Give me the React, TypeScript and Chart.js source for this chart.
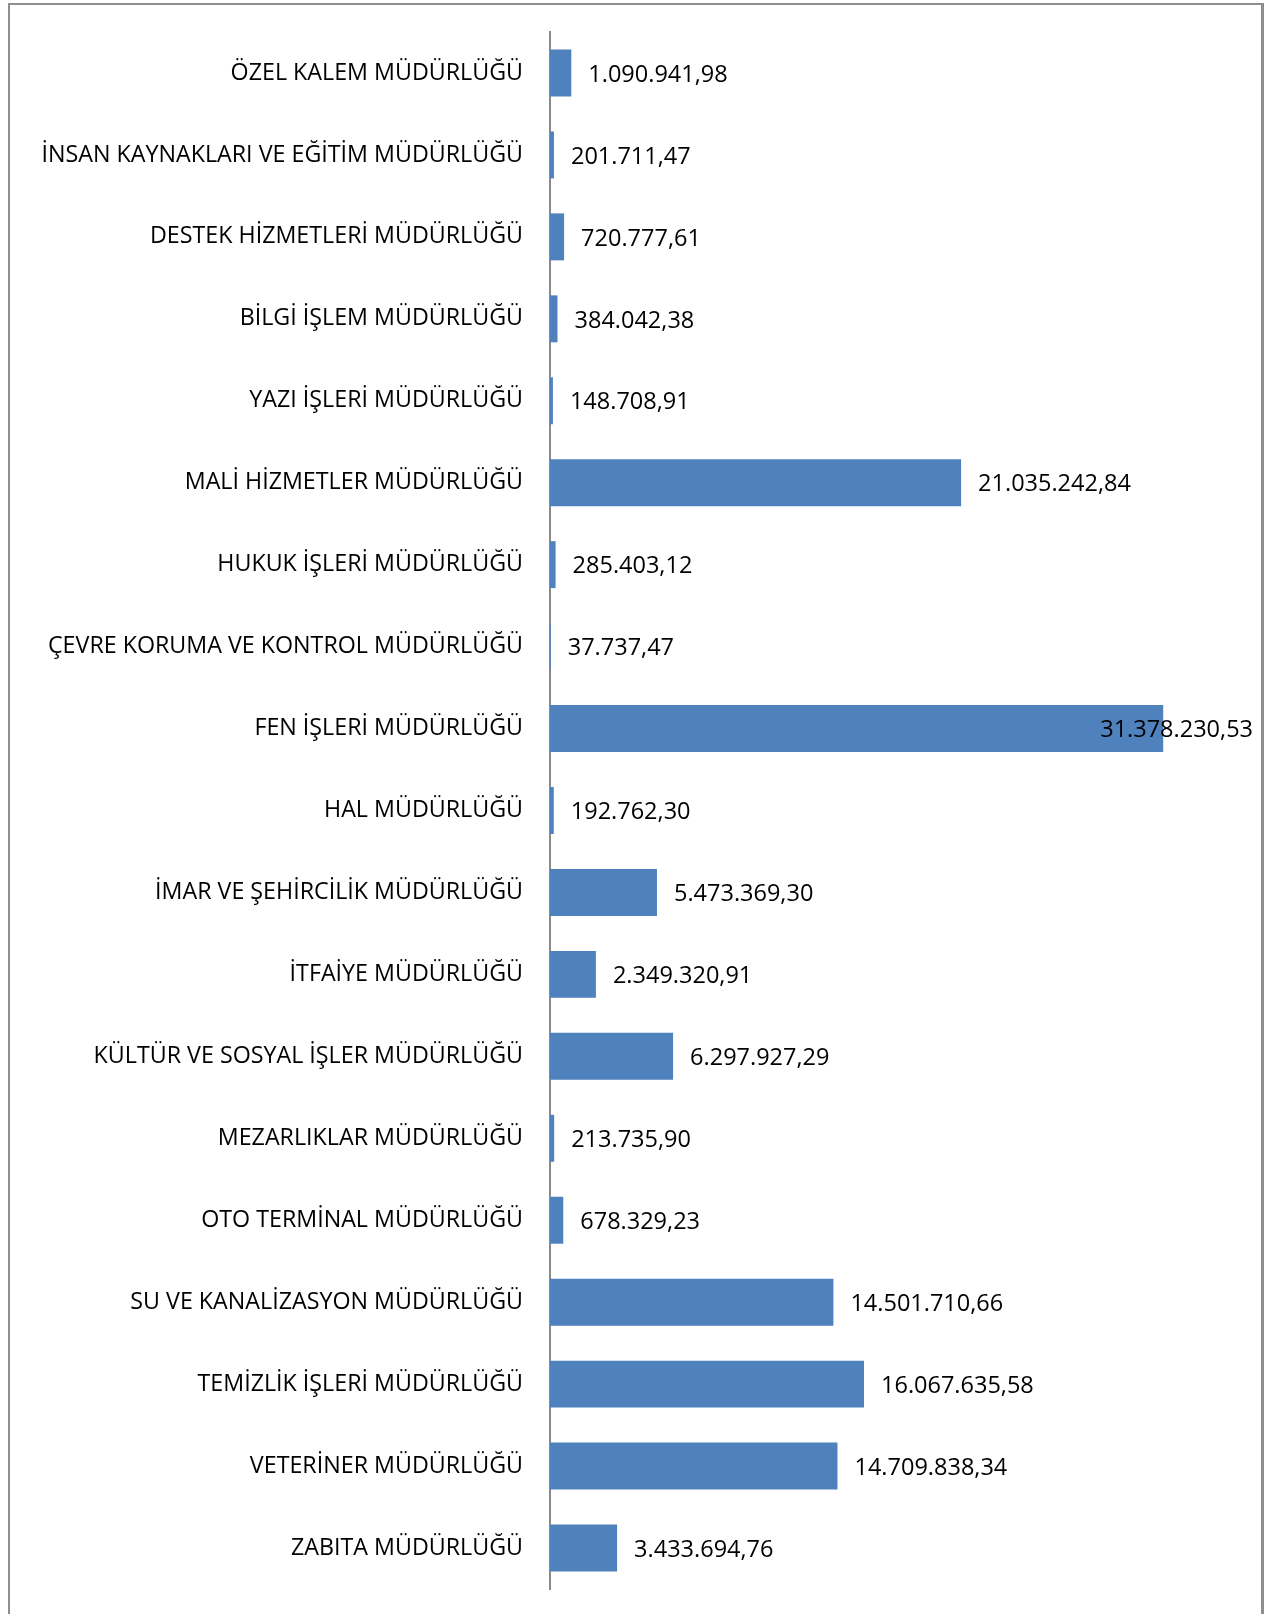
import React, { useEffect, useRef } from "react";
import { Chart, registerables } from "chart.js";

Chart.register(...registerables);

const categories: string[] = [
  "ÖZEL KALEM MÜDÜRLÜĞÜ",
  "İNSAN KAYNAKLARI VE EĞİTİM MÜDÜRLÜĞÜ",
  "DESTEK HİZMETLERİ MÜDÜRLÜĞÜ",
  "BİLGİ İŞLEM MÜDÜRLÜĞÜ",
  "YAZI İŞLERİ MÜDÜRLÜĞÜ",
  "MALİ HİZMETLER MÜDÜRLÜĞÜ",
  "HUKUK İŞLERİ MÜDÜRLÜĞÜ",
  "ÇEVRE KORUMA VE KONTROL MÜDÜRLÜĞÜ",
  "FEN İŞLERİ MÜDÜRLÜĞÜ",
  "HAL MÜDÜRLÜĞÜ",
  "İMAR VE ŞEHİRCİLİK MÜDÜRLÜĞÜ",
  "İTFAİYE MÜDÜRLÜĞÜ",
  "KÜLTÜR VE SOSYAL İŞLER MÜDÜRLÜĞÜ",
  "MEZARLIKLAR MÜDÜRLÜĞÜ",
  "OTO TERMİNAL MÜDÜRLÜĞÜ",
  "SU VE KANALİZASYON MÜDÜRLÜĞÜ",
  "TEMİZLİK İŞLERİ MÜDÜRLÜĞÜ",
  "VETERİNER MÜDÜRLÜĞÜ",
  "ZABITA MÜDÜRLÜĞÜ",
];

const values: number[] = [
  1090941.98,
  201711.47,
  720777.61,
  384042.38,
  148708.91,
  21035242.84,
  285403.12,
  37737.47,
  31378230.53,
  192762.3,
  5473369.3,
  2349320.91,
  6297927.29,
  213735.9,
  678329.23,
  14501710.66,
  16067635.58,
  14709838.34,
  3433694.76,
];

const axisMax = 35000000;

function formatTR(v: number): string {
  const fixed = v.toFixed(2);
  const [intPart, dec] = fixed.split(".");
  const withDots = intPart.replace(/\B(?=(\d{3})+(?!\d))/g, ".");
  return withDots + "," + dec;
}

const FONT_FAMILY = "'Open Sans', sans-serif";
const VALUE_FONT_SIZE = 23.5;
const LABEL_FONT_SIZE = 23.25;
const W = 1277;
const H = 1614;

const valueLabelPlugin = {
  id: "valueLabels",
  afterDatasetsDraw(chart: any) {
    const ctx = chart.ctx;
    const meta = chart.getDatasetMeta(0);
    ctx.save();
    ctx.font = `${VALUE_FONT_SIZE}px ${FONT_FAMILY}`;
    ctx.fillStyle = "#000000";
    ctx.textBaseline = "middle";
    ctx.textAlign = "left";
    const maxRight = 1253;
    meta.data.forEach((bar: any, i: number) => {
      const text = formatTR(values[i]);
      const w = ctx.measureText(text).width;
      let x = bar.x + 17;
      if (x + w > maxRight) x = maxRight - w;
      ctx.fillText(text, x, bar.y + 2);
    });
    ctx.restore();
  },
};

export default function App() {
  const canvasRef = useRef<HTMLCanvasElement | null>(null);

  useEffect(() => {
    if (!canvasRef.current) return;
    const chart = new Chart(canvasRef.current, {
      type: "bar",
      data: {
        labels: categories,
        datasets: [
          {
            data: values,
            backgroundColor: "#4F81BD",
            borderWidth: 0,
            categoryPercentage: 1,
            barPercentage: 0.573,
          },
        ],
      },
      options: {
        indexAxis: "y",
        animation: false,
        responsive: false,
        maintainAspectRatio: false,
        layout: {
          padding: { top: 32, bottom: H - 1589, left: 0, right: W - 1234 },
        },
        plugins: {
          legend: { display: false },
          tooltip: { enabled: false },
          title: { display: false },
        },
        scales: {
          x: {
            display: false,
            min: 0,
            max: axisMax,
            grid: { display: false },
          },
          y: {
            position: "left",
            afterFit: (scale: any) => {
              scale.width = 550;
            },
            grid: { display: false, drawTicks: true, tickLength: 27 },
            border: { display: true, color: "#8a8a8a", width: 2 },
            ticks: {
              padding: 0,
              color: "#000000",
              autoSkip: false,
              font: { family: FONT_FAMILY, size: LABEL_FONT_SIZE },
            },
          },
        },
      },
      plugins: [valueLabelPlugin],
    });
    return () => chart.destroy();
  }, []);

  return (
    <div
      style={{
        position: "fixed",
        left: 0,
        top: 0,
        width: W,
        height: H,
        background: "#ffffff",
        overflow: "hidden",
      }}
    >
      <div
        style={{
          position: "absolute",
          left: 8,
          top: 3,
          width: 1264 - 8,
          height: 1700,
          boxSizing: "border-box",
          borderLeft: "2px solid #8e8e8e",
          borderTop: "2px solid #8e8e8e",
          borderRight: "3px solid #8e8e8e",
        }}
      />
      <canvas
        ref={canvasRef}
        width={W}
        height={H}
        style={{ position: "absolute", left: 0, top: 0, width: W, height: H }}
      />
    </div>
  );
}
